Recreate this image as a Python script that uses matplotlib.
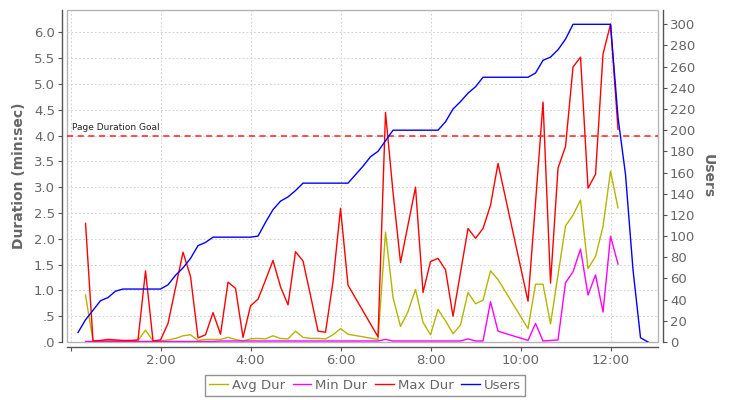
import matplotlib
matplotlib.use('Agg')
import matplotlib.pyplot as plt
from matplotlib.patches import Rectangle
from matplotlib.ticker import FuncFormatter, MultipleLocator

plt.rcParams['font.family'] = ['DejaVu Sans']

# durations sampled every 10 minutes, from 0:20 to 12:10 (None = no sample)
dur_minutes = list(range(20, 740, 10))

avg_dur = [0.91, 0.02, 0.02, 0.03, 0.03, 0.02, 0.02, 0.03, 0.23, 0.02,
           0.02, 0.04, 0.07, 0.12, 0.14, 0.03, 0.05, 0.05, 0.05, 0.09,
           0.05, 0.02, 0.06, 0.07, 0.06, 0.12, 0.07, 0.06, 0.21, 0.09,
           0.07, 0.07, 0.06, 0.14, 0.26, 0.15, None, None, None, 0.05,
           2.13, 0.86, 0.30, 0.59, 1.02, 0.38, 0.14, 0.63, 0.41, 0.16,
           0.33, 0.96, 0.74, 0.81, 1.38, 1.21, None, None, None, 0.26,
           1.12, 1.12, 0.35, 1.30, 2.25, 2.46, 2.75, 1.42, 1.66, 2.24,
           3.31, 2.60]

min_dur = [0.01, 0.01, 0.01, 0.01, 0.01, 0.01, 0.01, 0.01, 0.01, 0.01,
           0.01, 0.01, 0.01, 0.01, 0.01, 0.01, 0.01, 0.01, 0.02, 0.02,
           0.02, 0.02, 0.02, 0.02, 0.02, 0.02, 0.02, 0.02, 0.02, 0.02,
           0.02, 0.02, 0.02, 0.02, 0.02, 0.02, None, None, None, 0.02,
           0.05, 0.02, 0.02, 0.02, 0.02, 0.02, 0.02, 0.02, 0.02, 0.02,
           0.02, 0.06, 0.02, 0.02, 0.78, 0.21, None, None, None, 0.03,
           0.36, 0.02, 0.03, 0.04, 1.15, 1.36, 1.80, 0.91, 1.30, 0.58,
           2.05, 1.51]

max_dur = [2.30, 0.02, 0.03, 0.05, 0.04, 0.03, 0.03, 0.04, 1.38, 0.02,
           0.04, 0.36, 1.05, 1.74, 1.27, 0.08, 0.14, 0.57, 0.15, 1.16,
           1.04, 0.09, 0.70, 0.83, 1.20, 1.58, 1.07, 0.72, 1.75, 1.57,
           0.90, 0.21, 0.19, 1.17, 2.59, 1.10, None, None, None, 0.10,
           4.45, 2.90, 1.54, 2.27, 3.00, 0.96, 1.56, 1.62, 1.40, 0.50,
           1.35, 2.20, 2.01, 2.20, 2.65, 3.46, None, None, None, 0.79,
           2.70, 4.65, 1.14, 3.37, 3.79, 5.33, 5.52, 2.98, 3.25, 5.58,
           6.16, 4.12]

# users sampled every 10 minutes, from 0:10 to 12:50
user_minutes = list(range(10, 780, 10))
users = [9, 21, 30, 39, 42, 48, 50, 50, 50, 50,
         50, 50, 54, 63, 70, 79, 91, 94, 99, 99,
         99, 99, 99, 99, 100, 113, 125, 133, 137, 143,
         150, 150, 150, 150, 150, 150, 150, 158, 166, 175,
         180, 190, 200, 200, 200, 200, 200, 200, 200, 208,
         220, 227, 235, 241, 250, 250, 250, 250, 250, 250,
         250, 254, 266, 269, 276, 286, 300, 300, 300, 300,
         300, 300, 212, 158, 68, 4, 0]

goal = 4.0


def pts(xs, ys):
    keep = [(x, y) for x, y in zip(xs, ys) if y is not None]
    return [k[0] for k in keep], [k[1] for k in keep]


fig = plt.figure(figsize=(7.3, 4.0), dpi=100)
ax = fig.add_axes([67 / 730, 58 / 400, 591 / 730, 332 / 400])
ax2 = ax.twinx()

grey = '#666666'
axis_col = '#555555'

l1, = ax.plot(*pts(dur_minutes, avg_dur), color='#b5b500', lw=1.0, label='Avg Dur')
l2, = ax.plot(*pts(dur_minutes, min_dur), color='#ff00ff', lw=1.0, label='Min Dur')
l3, = ax.plot(*pts(dur_minutes, max_dur), color='#ff0000', lw=1.0, label='Max Dur')
l4, = ax2.plot(user_minutes, users, color='#0000ff', lw=1.0, label='Users')

ax.axhline(goal, color='#ff2020', lw=1.1, ls=(0, (4, 3)))
ax.text(2, goal + 0.07, 'Page Duration Goal', fontsize=6.5, color='#222222',
        ha='left', va='bottom')

ax.set_xlim(-4.7, 783.3)
ax.set_ylim(0, 6.434)
ax2.set_ylim(0, 313.5)

ax.xaxis.set_major_locator(MultipleLocator(120))
ax.xaxis.set_major_formatter(FuncFormatter(
    lambda v, p: '' if v <= 0 else '%d:%02d' % (int(v) // 60, int(v) % 60)))
ax.yaxis.set_major_locator(MultipleLocator(0.5))


def dur_fmt(v, p):
    s = '%.1f' % v
    if s.startswith('0'):
        s = s[1:]
    return s


ax.yaxis.set_major_formatter(FuncFormatter(dur_fmt))
ax2.yaxis.set_major_locator(MultipleLocator(20))

ax.grid(True, color='#d4d4d4', ls=(0, (2, 2)), lw=0.7)
ax.set_axisbelow(True)

for a in (ax, ax2):
    for s in a.spines.values():
        s.set_visible(False)
ax.spines['left'].set_visible(True)
ax.spines['left'].set_position(('outward', 3.6))
ax.spines['bottom'].set_visible(True)
ax.spines['bottom'].set_position(('outward', 3.6))
ax2.spines['right'].set_visible(True)
ax2.spines['right'].set_position(('outward', 3.6))
for s in (ax.spines['left'], ax.spines['bottom'], ax2.spines['right']):
    s.set_color(axis_col)
    s.set_linewidth(1.0)

ax.add_patch(Rectangle((0, 0), 1, 1, transform=ax.transAxes, fill=False,
                       edgecolor='#b4b4b4', lw=1.0, clip_on=False, zorder=0.5))

ax.tick_params(axis='both', colors=axis_col, labelcolor=grey, labelsize=9.5,
               length=3, width=0.8, pad=2)
ax2.tick_params(axis='y', colors=axis_col, labelcolor=grey, labelsize=9.5,
                length=3, width=0.8, pad=2)

ax.set_ylabel('Duration (min:sec)', fontsize=10, color=grey, fontweight='bold',
              labelpad=6)
ax2.set_ylabel('Users', fontsize=10, color=grey, fontweight='bold',
               rotation=270, labelpad=14)

leg = fig.legend(handles=[l1, l2, l3, l4], loc='lower center',
                 bbox_to_anchor=(0.5, 0.0), ncol=4, fontsize=9.5,
                 frameon=True, fancybox=False, handlelength=1.4,
                 handletextpad=0.3, columnspacing=0.6, borderpad=0.3,
                 borderaxespad=0.3)
leg.get_frame().set_edgecolor('#777777')
leg.get_frame().set_linewidth(1.0)
for t in leg.get_texts():
    t.set_color(grey)

fig.savefig('out.png', dpi=100)
